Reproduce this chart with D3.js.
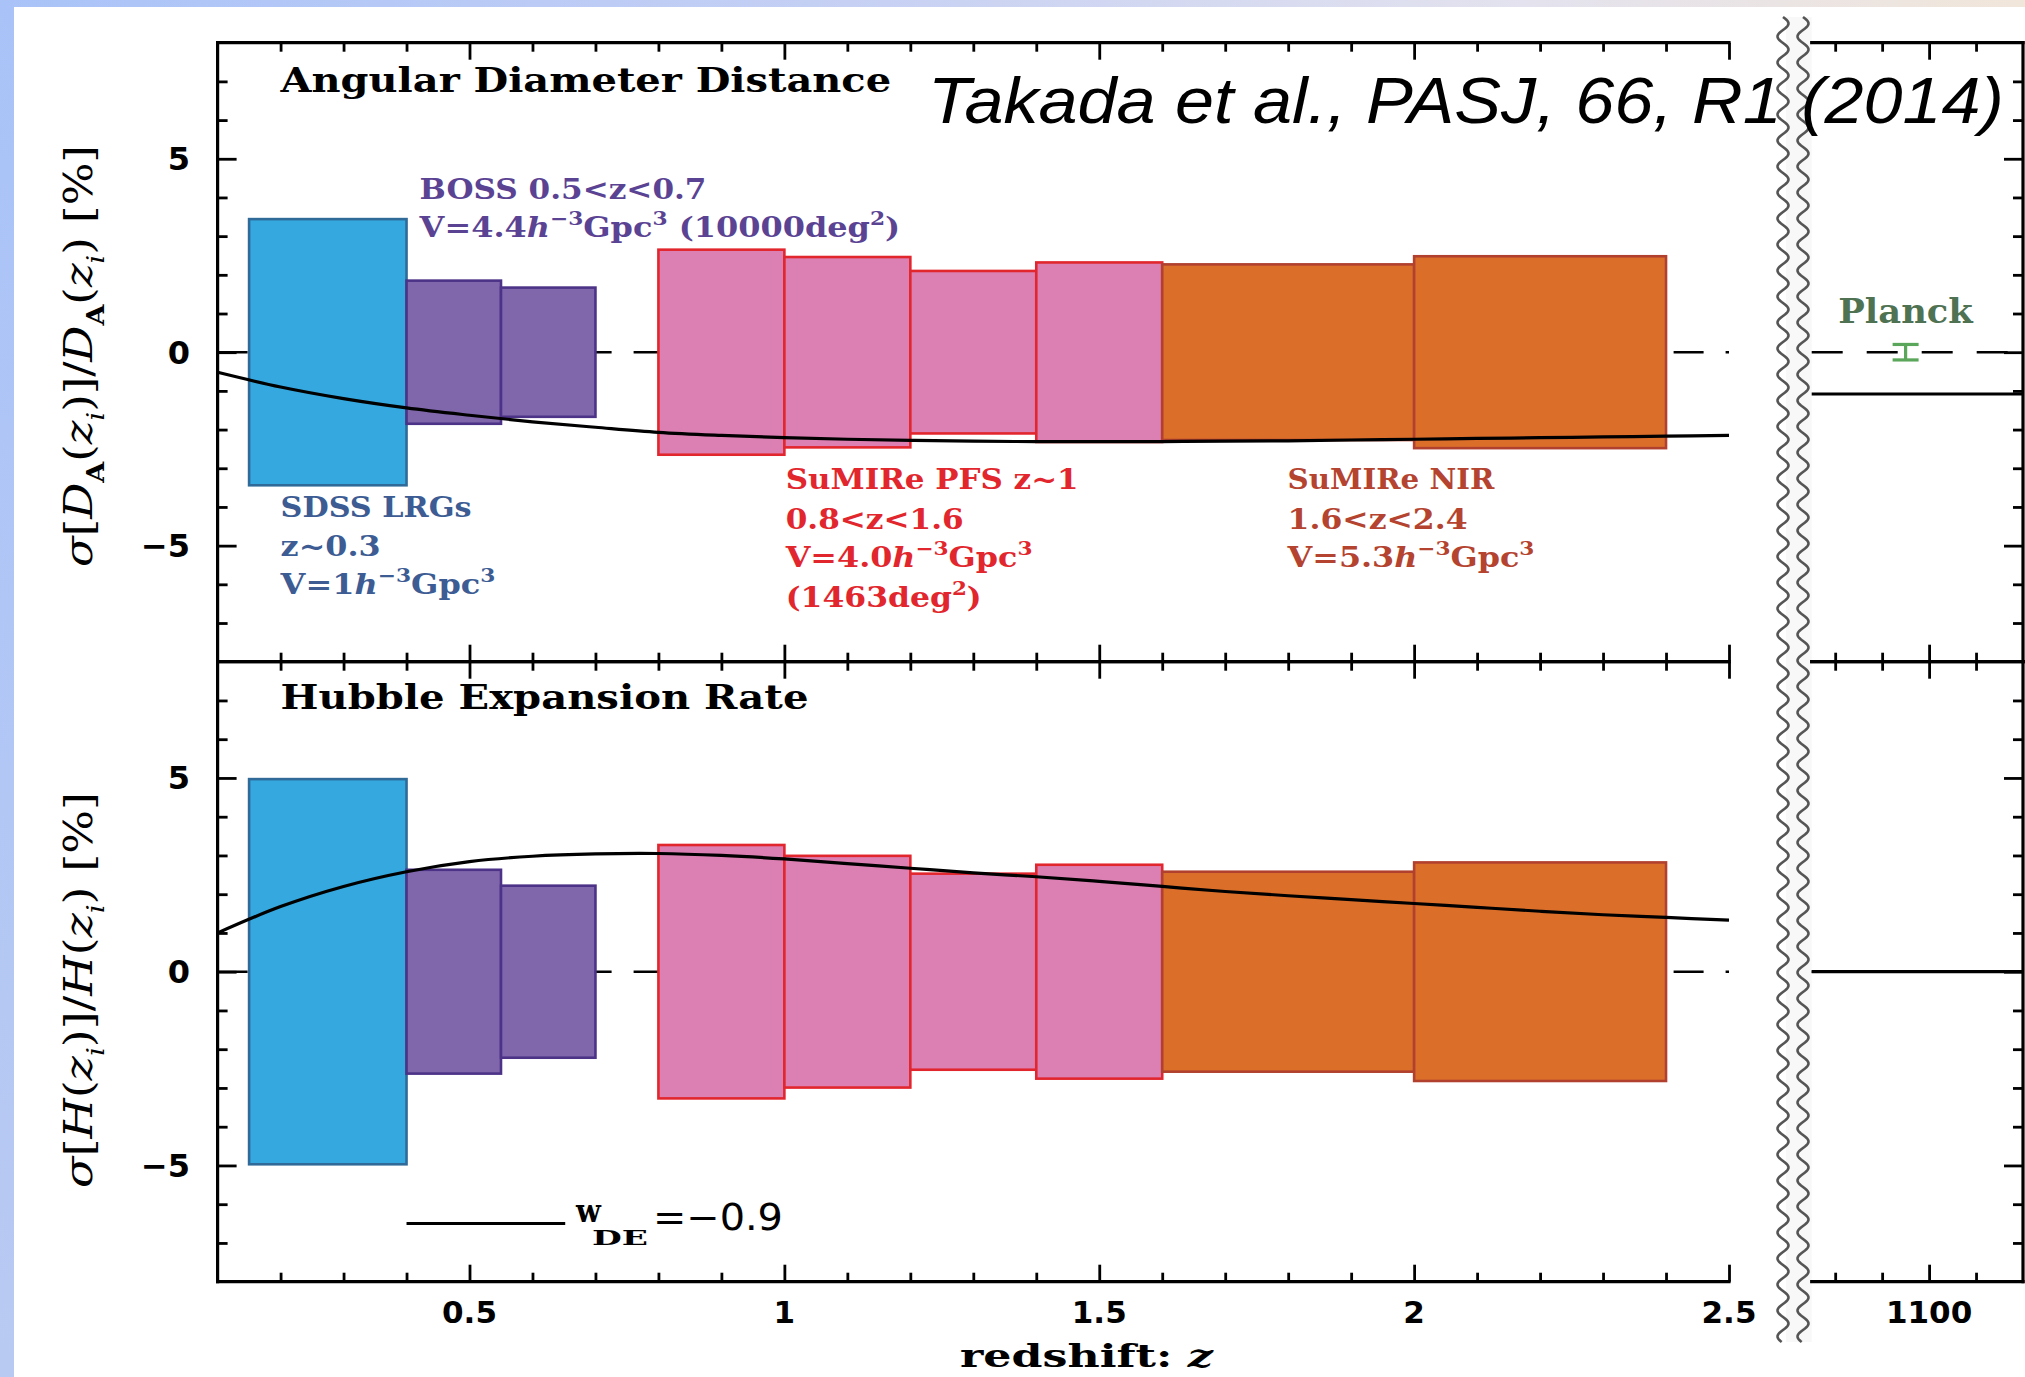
<!DOCTYPE html>
<html>
<head>
<meta charset="utf-8">
<script src="https://cdn.jsdelivr.net/npm/d3@7"></script>
<style>
html,body{margin:0;padding:0;background:#fff;}
svg{display:block;}
</style>
</head>
<body>
<script>
// ---------------- DATA ----------------
const surveys   = ["SDSS","BOSS","BOSS","PFS","PFS","PFS","PFS","NIR","NIR"];
const zLow      = [0.15, 0.40, 0.55, 0.80, 1.00, 1.20, 1.40, 1.60, 2.00];
const zHigh     = [0.40, 0.55, 0.70, 1.00, 1.20, 1.40, 1.60, 2.00, 2.40];
const sigmaDA   = [3.44, 1.85, 1.67, 2.65, 2.46, 2.10, 2.32, 2.27, 2.48];
const sigmaH    = [4.97, 2.63, 2.22, 3.27, 2.99, 2.53, 2.76, 2.58, 2.82];

const curveZ  = [0.1,0.2,0.3,0.4,0.5,0.6,0.7,0.8,0.9,1.0,1.1,1.2,1.3,1.4,1.5,1.6,1.7,1.8,1.9,2.0,2.1,2.2,2.3,2.4,2.5];
const curveDA = [-0.52,-0.90,-1.20,-1.44,-1.63,-1.80,-1.94,-2.07,-2.15,-2.21,-2.25,-2.28,-2.30,-2.31,-2.31,-2.31,-2.30,-2.29,-2.27,-2.25,-2.23,-2.21,-2.19,-2.17,-2.15];
const curveH  = [1.00,1.68,2.20,2.58,2.84,2.98,3.04,3.05,3.00,2.91,2.79,2.67,2.55,2.45,2.33,2.20,2.07,1.96,1.86,1.76,1.66,1.56,1.47,1.40,1.33];

const planckZ = 1095, planckSigma = 0.2;
const planckCurveDA = -1.08, planckCurveH = 0;

const xMajor = [0.5, 1, 1.5, 2, 2.5];
const xMajorLabels = ["0.5", "1", "1.5", "2", "2.5"];
const xMinor = [0.2,0.3,0.4,0.6,0.7,0.8,0.9,1.1,1.2,1.3,1.4,1.6,1.7,1.8,1.9,2.1,2.2,2.3,2.4];
const pMajor = [1100], pMajorLabels = ["1100"];
const pMinor = [1080, 1090, 1110];
const yMajor = [-5, 0, 5], yMajorLabels = ["\u22125", "0", "5"];
const yMinor = [-7,-6,-4,-3,-2,-1,1,2,3,4,6,7];

const fillC   = {SDSS:"#34a8df", BOSS:"#8067ab", PFS:"#dc7fb2", NIR:"#db6f2a"};
const strokeC = {SDSS:"#2f6a98", BOSS:"#4c3387", PFS:"#e2262e", NIR:"#b1402e"};

// ---------------- LAYOUT ----------------
const W = 2025, H = 1377;
const L = 217.6, R = 1729, PL = 1811.7, PR = 2023;
const T1 = 42.7, MID = 661.7, B2 = 1281.7;

const x  = d3.scaleLinear().domain([0.1, 2.5]).range([L, R]);
const xp = d3.scaleLinear().domain([1075, 1120]).range([PL, PR]);
const yTop = d3.scaleLinear().domain([-8, 8]).range([MID, T1]);
const yBot = d3.scaleLinear().domain([-8, 8]).range([B2, MID]);

const svg = d3.select("body").append("svg").attr("width", W).attr("height", H);
const defs = svg.append("defs");
const gTopBand = defs.append("linearGradient").attr("id","topband").attr("x1","0").attr("x2","1").attr("y1","0").attr("y2","0");
gTopBand.append("stop").attr("offset","0").attr("stop-color","#a9c3f8");
gTopBand.append("stop").attr("offset","0.4").attr("stop-color","#c4cff4");
gTopBand.append("stop").attr("offset","0.75").attr("stop-color","#e3e2ee");
gTopBand.append("stop").attr("offset","1").attr("stop-color","#f1e6da");
const gLeftBand = defs.append("linearGradient").attr("id","leftband").attr("x1","0").attr("x2","0").attr("y1","0").attr("y2","1");
gLeftBand.append("stop").attr("offset","0").attr("stop-color","#a9c3f8");
gLeftBand.append("stop").attr("offset","1").attr("stop-color","#b9caf2");

svg.append("rect").attr("width", W).attr("height", H).attr("fill", "#fff");
svg.append("rect").attr("x",0).attr("y",0).attr("width",W).attr("height",7).attr("fill","url(#topband)");
svg.append("rect").attr("x",0).attr("y",0).attr("width",14).attr("height",H).attr("fill","url(#leftband)");

svg.append("rect").attr("x",1786).attr("y",17).attr("width",PL-1786).attr("height",1325).attr("fill","#f8f8f8");

const serif = "'DejaVu Serif', serif";
const sans = "'DejaVu Sans', sans-serif";

function fit(sel, px, py, width, rot) {
  const w = sel.node().getBBox().width;
  sel.attr("transform", `translate(${px},${py})${rot ? " rotate(-90)" : ""} scale(${width / w},1)`);
}

// ---------------- PANELS ----------------
const panels = [
  {y: yTop, sig: sigmaDA, curve: curveDA, pline: planckCurveDA, top: T1, bottom: MID, planck: true},
  {y: yBot, sig: sigmaH,  curve: curveH,  pline: planckCurveH,  top: MID, bottom: B2, planck: false}
];

panels.forEach(p => {
  const g = svg.append("g");
  g.append("line").attr("x1", x(0.1)).attr("x2", x(2.5)).attr("y1", p.y(0)).attr("y2", p.y(0))
    .attr("stroke","#000").attr("stroke-width",2.6).attr("stroke-dasharray","30,22");
  g.append("line").attr("x1", xp(1075)).attr("x2", xp(1120)).attr("y1", p.y(0)).attr("y2", p.y(0))
    .attr("stroke","#000").attr("stroke-width",2.6).attr("stroke-dasharray","31,24");
  g.selectAll("rect.bar").data(surveys).enter().append("rect")
    .attr("x", (d,i) => x(zLow[i]))
    .attr("width", (d,i) => x(zHigh[i]) - x(zLow[i]))
    .attr("y", (d,i) => p.y(p.sig[i]))
    .attr("height", (d,i) => p.y(-p.sig[i]) - p.y(p.sig[i]))
    .attr("fill", d => fillC[d]).attr("stroke", d => strokeC[d]).attr("stroke-width", 2.6);
  const line = d3.line().x(d => x(d[0])).y(d => p.y(d[1])).curve(d3.curveCatmullRom.alpha(0.5));
  g.append("path").datum(curveZ.map((z,i) => [z, p.curve[i]])).attr("d", line)
    .attr("fill","none").attr("stroke","#000").attr("stroke-width",3.2);
  g.append("line").attr("x1", xp(1075)).attr("x2", xp(1120)).attr("y1", p.y(p.pline)).attr("y2", p.y(p.pline))
    .attr("stroke","#000").attr("stroke-width",3.2);
  if (p.planck) {
    const pc = "#5aa65a";
    const eg = g.append("g").attr("stroke", pc).attr("stroke-width", 3.2);
    eg.append("line").attr("x1", xp(planckZ)).attr("x2", xp(planckZ)).attr("y1", p.y(planckSigma)).attr("y2", p.y(-planckSigma));
    eg.append("line").attr("x1", xp(planckZ)-13).attr("x2", xp(planckZ)+13).attr("y1", p.y(planckSigma)).attr("y2", p.y(planckSigma));
    eg.append("line").attr("x1", xp(planckZ)-13).attr("x2", xp(planckZ)+13).attr("y1", p.y(-planckSigma)).attr("y2", p.y(-planckSigma));
  }

  const ax = svg.append("g").attr("class","ticks");
  function tk(gen, tx, ty, vals, size) {
    const a = ax.append("g").attr("transform", `translate(${tx},${ty})`)
      .call(gen.tickValues(vals).tickSize(size).tickSizeOuter(0).tickFormat(""));
    a.select(".domain").remove();
    a.selectAll("line").attr("stroke","#000").attr("stroke-width",2.8);
  }
  tk(d3.axisBottom(x), 0, p.top, xMinor, 9);
  tk(d3.axisBottom(x), 0, p.top, xMajor, 17);
  tk(d3.axisTop(x), 0, p.bottom, xMinor, 9);
  tk(d3.axisTop(x), 0, p.bottom, xMajor, 17);
  tk(d3.axisBottom(xp), 0, p.top, pMinor, 9);
  tk(d3.axisBottom(xp), 0, p.top, pMajor, 17);
  tk(d3.axisTop(xp), 0, p.bottom, pMinor, 9);
  tk(d3.axisTop(xp), 0, p.bottom, pMajor, 17);
  tk(d3.axisRight(p.y), L, 0, yMinor, 10);
  tk(d3.axisRight(p.y), L, 0, yMajor, 19);
  tk(d3.axisLeft(p.y), PR, 0, yMinor, 10);
  tk(d3.axisLeft(p.y), PR, 0, yMajor, 19);

  const fr = svg.append("g").attr("stroke","#000").attr("stroke-width",3.2).attr("stroke-linecap","square");
  fr.append("line").attr("x1",L).attr("x2",R).attr("y1",p.top).attr("y2",p.top);
  fr.append("line").attr("x1",L).attr("x2",R).attr("y1",p.bottom).attr("y2",p.bottom);
  fr.append("line").attr("x1",L).attr("x2",L).attr("y1",p.top).attr("y2",p.bottom);
  fr.append("line").attr("x1",PL).attr("x2",PR).attr("y1",p.top).attr("y2",p.top);
  fr.append("line").attr("x1",PL).attr("x2",PR).attr("y1",p.bottom).attr("y2",p.bottom);
  fr.append("line").attr("x1",PR).attr("x2",PR).attr("y1",p.top).attr("y2",p.bottom);

  svg.append("g").selectAll("text").data(yMajor).enter().append("text")
    .attr("x", 190).attr("y", d => p.y(d)).attr("dy","0.36em")
    .attr("text-anchor","end").attr("font-family",sans).attr("font-size",32).attr("font-weight","bold")
    .text((d,i) => yMajorLabels[i]);
});

svg.append("g").selectAll("text").data(xMajor).enter().append("text")
  .attr("x", d => x(d)).attr("y", 1323).attr("text-anchor","middle")
  .attr("font-family",sans).attr("font-size",31).attr("font-weight","bold")
  .text((d,i) => xMajorLabels[i]);
svg.append("g").selectAll("text").data(pMajor).enter().append("text")
  .attr("x", d => xp(d)).attr("y", 1323).attr("text-anchor","middle")
  .attr("font-family",sans).attr("font-size",31).attr("font-weight","bold")
  .text((d,i) => pMajorLabels[i]);

// axis break squiggles
[1783, 1803].forEach(cx => {
  const pts = d3.range(17, 1343, 1).map(yy => [cx + 5.5 * Math.sin(2 * Math.PI * (yy - 17) / 26), yy]);
  svg.append("path").attr("d", d3.line()(pts)).attr("fill","none").attr("stroke","#555").attr("stroke-width",2.6);
});

// ---------------- TEXT ----------------
function addText(px, py, width, color, size, parts, opts = {}) {
  const t = svg.append("text").attr("x",0).attr("y",0)
    .attr("font-family", opts.family || serif).attr("font-size", size)
    .attr("font-weight", opts.weight || "bold").attr("fill", color);
  let shift = 0;
  parts.forEach(pt => {
    const s = typeof pt === "string" ? {t: pt} : pt;
    const ts = t.append("tspan").text(s.t);
    const target = s.sup ? -0.42 * size : s.sub ? 0.3 * size : 0;
    if (target !== shift) { ts.attr("dy", target - shift); shift = target; }
    if (s.sup || s.sub) ts.attr("font-size", size * (s.scale || 0.68));
    if (s.it) ts.attr("font-style","italic");
    if (s.w) ts.attr("font-weight", s.w);
    if (s.fam) ts.attr("font-family", s.fam);
  });
  fit(t, px, py, width, opts.rot);
  return t;
}

addText(280.6, 91.5, 612, "#000", 33, ["Angular Diameter Distance"]);
addText(280.6, 709.3, 528, "#000", 33, ["Hubble Expansion Rate"]);

const boss = "#5b4394";
addText(419.6, 198.7, 287, boss, 27.5, ["BOSS 0.5<z<0.7"]);
addText(419.6, 236.6, 482, boss, 27.5, ["V=4.4", {t:"h", it:true}, {t:"\u22123", sup:true}, "Gpc", {t:"3", sup:true}, " (10000deg", {t:"2", sup:true}, ")"]);

const sdss = "#3c5c93";
addText(280.6, 516.5, 191, sdss, 27.5, ["SDSS LRGs"]);
addText(280.6, 555.8, 100, sdss, 27.5, ["z~0.3"]);
addText(280.6, 593.8, 216, sdss, 27.5, ["V=1", {t:"h", it:true}, {t:"\u22123", sup:true}, "Gpc", {t:"3", sup:true}]);

const pfs = "#e2262d";
addText(785.7, 489, 293, pfs, 27.5, ["SuMIRe PFS z~1"]);
addText(785.7, 529, 178, pfs, 27.5, ["0.8<z<1.6"]);
addText(785.7, 567, 248, pfs, 27.5, ["V=4.0", {t:"h", it:true}, {t:"\u22123", sup:true}, "Gpc", {t:"3", sup:true}]);
addText(785.7, 607, 196, pfs, 27.5, ["(1463deg", {t:"2", sup:true}, ")"]);

const nir = "#b4432f";
addText(1287.6, 489, 208, nir, 27.5, ["SuMIRe NIR"]);
addText(1287.6, 529, 180, nir, 27.5, ["1.6<z<2.4"]);
addText(1287.6, 567, 248, nir, 27.5, ["V=5.3", {t:"h", it:true}, {t:"\u22123", sup:true}, "Gpc", {t:"3", sup:true}]);

addText(1838.3, 323, 136, "#4e7252", 34, ["Planck"]);

addText(928, 123, 1075, "#000", 64, ["Takada et al., PASJ, 66, R1 (2014)"], {family: "'Liberation Sans', Arial, sans-serif", weight: "normal"}).attr("font-style","italic");

// legend
svg.append("line").attr("x1", x(0.4)).attr("x2", x(0.652)).attr("y1", yBot(-6.5)).attr("y2", yBot(-6.5))
  .attr("stroke","#000").attr("stroke-width",3);
addText(576, 1222, 27, "#000", 32, ["w"]);
addText(592, 1245, 56, "#000", 21, ["DE"]);
addText(653, 1230, 130, "#000", 37, ["=\u22120.9"], {family: sans, weight: "normal"});

// axis titles
addText(960, 1367, 255, "#000", 31, ["redshift:  ", {t:"z", it:true}]);

addText(92, 567, 422, "#000", 40, [
  {t:"\u03c3", it:true}, "[", {t:"D", it:true}, {t:"A", sub:true, w:"bold", scale:0.6}, "(", {t:"z", it:true}, {t:"i", sub:true, it:true, scale:0.6},
  ")]/", {t:"D", it:true}, {t:"A", sub:true, w:"bold", scale:0.6}, "(", {t:"z", it:true}, {t:"i", sub:true, it:true, scale:0.6}, ")  [%]"
], {weight: "normal", rot: true});

addText(92, 1188, 396, "#000", 40, [
  {t:"\u03c3", it:true}, "[", {t:"H", it:true}, "(", {t:"z", it:true}, {t:"i", sub:true, it:true, scale:0.6},
  ")]/", {t:"H", it:true}, "(", {t:"z", it:true}, {t:"i", sub:true, it:true, scale:0.6}, ")  [%]"
], {weight: "normal", rot: true});
</script>
</body>
</html>
